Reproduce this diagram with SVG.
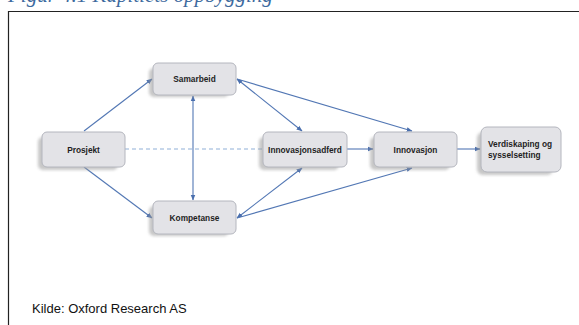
<svg xmlns="http://www.w3.org/2000/svg" width="579" height="325" viewBox="0 0 579 325">
<defs>
<style>
.box{fill:#e3e3e7;stroke:#b4b6be;stroke-width:1}
.sh{fill:#9a9a9a;opacity:0.55}
.lbl{font-family:"Liberation Sans",Arial,sans-serif;font-weight:bold;font-size:8.3px;fill:#1e1e1e}
.c{fill:none;stroke:#5277b4;stroke-width:1.1}
.d{fill:none;stroke:#8fb0d8;stroke-width:1.1;stroke-dasharray:4 3}
</style>
<marker id="ah" viewBox="0 0 10 10" refX="9" refY="5" markerWidth="6" markerHeight="6" orient="auto-start-reverse" markerUnits="userSpaceOnUse">
<path d="M0,1 L10,5 L0,9 z" fill="#4a6fae"/>
</marker>
<filter id="blur" x="-20%" y="-20%" width="140%" height="140%"><feGaussianBlur stdDeviation="1.5"/></filter>
</defs>
<rect width="579" height="325" fill="#ffffff"/>
<text x="8" y="1.5" font-family="'Liberation Serif',serif" font-style="italic" font-size="21" fill="#3d6a9e">Figur 4.1 Kapitlets oppbygging</text>
<path d="M8.5,325 V11.5 H579" fill="none" stroke="#222" stroke-width="1.2"/>

<g id="connectors">
<path class="d" d="M125,149 H262"/>
<path class="c" d="M84,131 L152,79" marker-end="url(#ah)"/>
<path class="c" d="M84,167 L152,218" marker-end="url(#ah)"/>
<path class="c" d="M193,96 V200" marker-start="url(#ah)" marker-end="url(#ah)"/>
<path class="c" d="M237,79 L302,131" marker-start="url(#ah)" marker-end="url(#ah)"/>
<path class="c" d="M237,79 L412,131" marker-end="url(#ah)"/>
<path class="c" d="M237,218 L302,168" marker-start="url(#ah)" marker-end="url(#ah)"/>
<path class="c" d="M237,218 L412,168" marker-end="url(#ah)"/>
<path class="c" d="M347,149 H373" marker-end="url(#ah)"/>
<path class="c" d="M457,149 H480" marker-end="url(#ah)"/>
</g>

<g id="prosjekt">
<rect class="sh" x="38" y="137" width="80" height="33" rx="5" filter="url(#blur)"/>
<rect class="box" x="42" y="132" width="83" height="35" rx="5"/>
<text class="lbl" x="83.5" y="152.5" text-anchor="middle">Prosjekt</text>
</g>
<g id="samarbeid">
<rect class="sh" x="149" y="68" width="80" height="29" rx="5" filter="url(#blur)"/>
<rect class="box" x="153" y="63" width="83" height="32" rx="5"/>
<text class="lbl" x="194.5" y="82" text-anchor="middle">Samarbeid</text>
</g>
<g id="kompetanse">
<rect class="sh" x="149" y="206" width="80" height="30" rx="5" filter="url(#blur)"/>
<rect class="box" x="153" y="201" width="83" height="33" rx="5"/>
<text class="lbl" x="194.5" y="220.5" text-anchor="middle">Kompetanse</text>
</g>
<g id="innovasjonsadferd">
<rect class="sh" x="259" y="137" width="80" height="33" rx="5" filter="url(#blur)"/>
<rect class="box" x="263" y="132" width="84" height="35" rx="5"/>
<text class="lbl" x="305" y="152.5" text-anchor="middle">Innovasjonsadferd</text>
</g>
<g id="innovasjon">
<rect class="sh" x="370" y="137" width="80" height="33" rx="5" filter="url(#blur)"/>
<rect class="box" x="374" y="132" width="83" height="35" rx="5"/>
<text class="lbl" x="415.5" y="152.5" text-anchor="middle">Innovasjon</text>
</g>
<g id="verdiskaping">
<rect class="sh" x="477" y="132" width="76" height="43" rx="6" filter="url(#blur)"/>
<rect class="box" x="481" y="127" width="80" height="45" rx="6"/>
<text class="lbl" x="488" y="147">Verdiskaping og</text>
<text class="lbl" x="488" y="157.5">sysselsetting</text>
</g>

<text x="32" y="313" font-family="'Liberation Sans',Arial,sans-serif" font-size="13" fill="#111">Kilde: Oxford Research AS</text>
</svg>
